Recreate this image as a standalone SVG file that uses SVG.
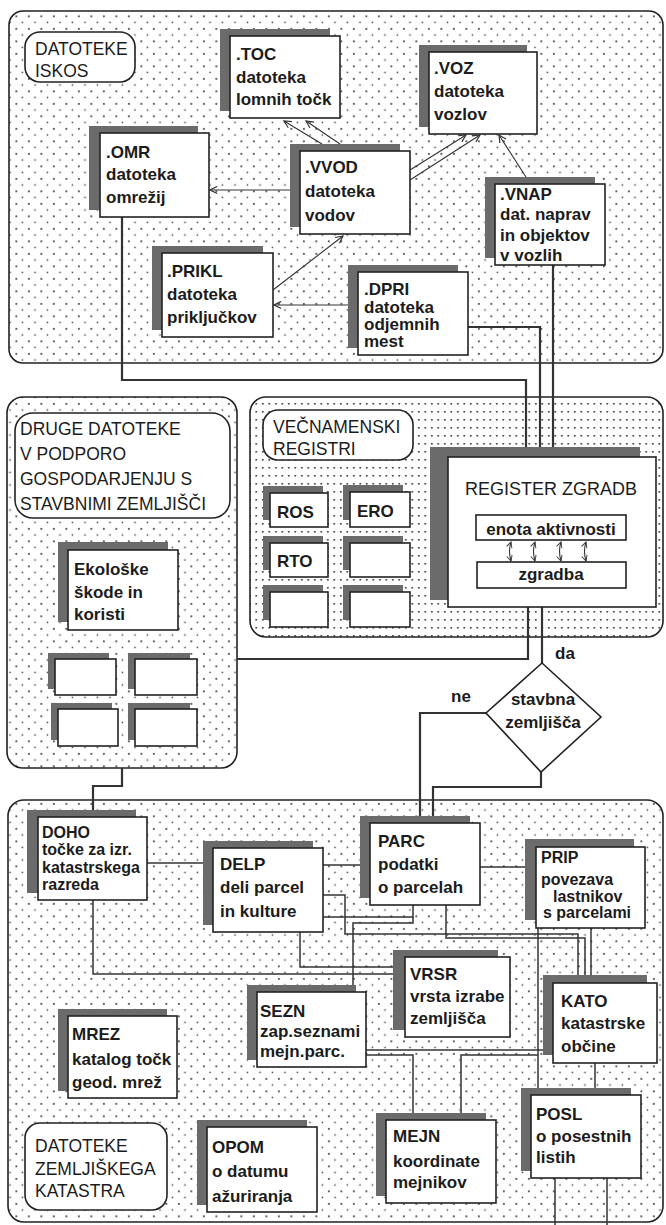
<svg xmlns="http://www.w3.org/2000/svg" width="666" height="1225" viewBox="0 0 666 1225">
<defs>
<pattern id="dots" width="12.5" height="12.5" patternUnits="userSpaceOnUse"><rect x="3" y="3" width="1.7" height="1.7" fill="#333"/><rect x="9.25" y="9.25" width="1.5" height="1.5" fill="#444"/></pattern>
<pattern id="dense" width="6.5" height="8" patternUnits="userSpaceOnUse"><rect x="2" y="3" width="1.6" height="1.6" fill="#333"/></pattern>
<marker id="ar" viewBox="0 0 10 10" refX="9" refY="5" markerWidth="9" markerHeight="9" orient="auto" markerUnits="userSpaceOnUse"><path d="M1,1 L9,5 L1,9" fill="none" stroke="#333" stroke-width="1.3"/></marker>
<marker id="ar2" viewBox="0 0 10 10" refX="9" refY="5" markerWidth="7" markerHeight="7" orient="auto-start-reverse" markerUnits="userSpaceOnUse"><path d="M1,1 L9,5 L1,9" fill="none" stroke="#333" stroke-width="1.3"/></marker>
<style>
.c{fill:url(#dots);stroke:#222;stroke-width:1.6}
.cd{fill:url(#dense);stroke:#222;stroke-width:1.6}
.sh{fill:#6b6b6b}
.bx{fill:#fff;stroke:#222;stroke-width:1.6}
.lbx{fill:#fff;stroke:#222;stroke-width:1.6}
.t{font-family:"Liberation Sans",Arial,sans-serif;font-weight:bold;font-size:17px;fill:#1c1c1c}
.l{font-family:"Liberation Sans",Arial,sans-serif;font-size:17.5px;fill:#1c1c1c}
.ln{fill:none;stroke:#333;stroke-width:1.5}
.lt{fill:none;stroke:#333;stroke-width:2.2}
.la{fill:none;stroke:#333;stroke-width:1.1}
</style>
</defs>
<rect width="666" height="1225" fill="#fff"/>

<g id="containers">
<rect class="c" x="9" y="11" width="654" height="352" rx="14"/>
<rect class="c" x="7" y="397" width="230" height="371" rx="16"/>
<rect class="cd" x="250" y="397" width="413" height="240" rx="16"/>
<rect class="c" x="8" y="800" width="655" height="422" rx="16"/>
</g>

<g id="connectors">
<line class="la" x1="322" y1="144" x2="284" y2="121" marker-end="url(#ar)"/>
<line class="la" x1="340" y1="144" x2="306" y2="121" marker-end="url(#ar)"/>
<line class="la" x1="410" y1="170" x2="466" y2="135" marker-end="url(#ar)"/>
<line class="la" x1="410" y1="180" x2="480" y2="135" marker-end="url(#ar)"/>
<line class="la" x1="526" y1="177" x2="499" y2="135" marker-end="url(#ar)"/>
<line class="la" x1="290" y1="190" x2="210" y2="190" marker-end="url(#ar)"/>
<line class="la" x1="273" y1="290" x2="343" y2="236" marker-end="url(#ar)"/>
<line class="la" x1="348" y1="305" x2="274" y2="305" marker-end="url(#ar)"/>
<polyline class="lt" points="122,217 122,380 526,380 526,447"/>
<polyline class="lt" points="468,327 540,327 540,447"/>
<polyline class="lt" points="553,265 553,447"/>
<polyline class="lt" points="528,607 528,659 237,659"/>
<polyline class="lt" points="542,607 542,663"/>
<polyline class="lt" points="486,713 420,713 420,817"/>
<polyline class="lt" points="541,772 541,787 433,787 433,817"/>
<polyline class="lt" points="122,768 122,786 93,786 93,810"/>
<polyline class="ln" points="147,863 203,863"/>
<polyline class="ln" points="93,900 93,974 393,974"/>
<polyline class="ln" points="300,932 300,967 393,967"/>
<polyline class="ln" points="323,865 360,865"/>
<polyline class="ln" points="480,867 525,867"/>
<polyline class="ln" points="323,895 345,895 345,934 578,934 578,975"/>
<polyline class="ln" points="413,905 413,917 323,917"/>
<polyline class="ln" points="413,917 413,923 353,923 353,985"/>
<polyline class="ln" points="446,905 446,938 585,938 585,975"/>
<polyline class="ln" points="591,928 591,975"/>
<polyline class="ln" points="538,928 538,1088"/>
<polyline class="ln" points="366,1050 543,1050"/>
<polyline class="ln" points="366,1055 413,1055 413,1113"/>
<polyline class="ln" points="461,1113 461,1055 538,1055"/>
<polyline class="ln" points="595,1063 595,1088"/>
<polyline class="ln" points="555,1178 555,1225"/>
<polyline class="ln" points="607,1178 607,1225"/>
</g>

<g id="lbl-iskos"><rect class="lbx" x="25" y="32" width="110" height="50" rx="15"/><text class="l"><tspan x="35" y="55">DATOTEKE</tspan><tspan x="35" y="77">ISKOS</tspan></text></g>
<g id="lbl-druge"><rect class="lbx" x="15" y="413" width="215" height="105" rx="18"/><text class="l"><tspan x="20" y="435">DRUGE DATOTEKE</tspan><tspan x="20" y="460">V PODPORO</tspan><tspan x="20" y="485">GOSPODARJENJU S</tspan><tspan x="20" y="510">STAVBNIMI ZEMLJIŠČI</tspan></text></g>
<g id="lbl-vecn"><rect class="lbx" x="263" y="410" width="150" height="50" rx="15"/><text class="l"><tspan x="273" y="433">VEČNAMENSKI</tspan><tspan x="273" y="455">REGISTRI</tspan></text></g>
<g id="lbl-zk"><rect class="lbx" x="25" y="1123" width="142" height="87" rx="15"/><text class="l"><tspan x="35" y="1152">DATOTEKE</tspan><tspan x="35" y="1175">ZEMLJIŠKEGA</tspan><tspan x="35" y="1197">KATASTRA</tspan></text></g>

<g id="n-toc"><rect class="sh" x="220" y="29" width="110" height="82"/><rect class="bx" x="230" y="36" width="110" height="82"/><text class="t"><tspan x="236" y="60">.TOC</tspan><tspan x="236" y="83">datoteka</tspan><tspan x="236" y="105">lomnih točk</tspan></text></g>
<g id="n-voz"><rect class="sh" x="419" y="45" width="108" height="82"/><rect class="bx" x="429" y="52" width="108" height="82"/><text class="t"><tspan x="434" y="74">.VOZ</tspan><tspan x="434" y="97">datoteka</tspan><tspan x="434" y="120">vozlov</tspan></text></g>
<g id="n-omr"><rect class="sh" x="89" y="126" width="109" height="84"/><rect class="bx" x="100" y="133" width="109" height="84"/><text class="t"><tspan x="106" y="158">.OMR</tspan><tspan x="106" y="180">datoteka</tspan><tspan x="106" y="203">omrežij</tspan></text></g>
<g id="n-vvod"><rect class="sh" x="290" y="144" width="110" height="83"/><rect class="bx" x="300" y="151" width="110" height="83"/><text class="t"><tspan x="305" y="173">.VVOD</tspan><tspan x="305" y="197">datoteka</tspan><tspan x="305" y="221">vodov</tspan></text></g>
<g id="n-vnap"><rect class="sh" x="485" y="177" width="110" height="81"/><rect class="bx" x="495" y="184" width="110" height="81"/><text class="t"><tspan x="500" y="200">.VNAP</tspan><tspan x="500" y="220">dat. naprav</tspan><tspan x="500" y="241">in objektov</tspan><tspan x="500" y="261">v vozlih</tspan></text></g>
<g id="n-prikl"><rect class="sh" x="152" y="246" width="111" height="84"/><rect class="bx" x="162" y="253" width="111" height="84"/><text class="t"><tspan x="167" y="277">.PRIKL</tspan><tspan x="167" y="300">datoteka</tspan><tspan x="167" y="323">priključkov</tspan></text></g>
<g id="n-dpri"><rect class="sh" x="348" y="265" width="110" height="83"/><rect class="bx" x="358" y="272" width="110" height="83"/><text class="t"><tspan x="364" y="295">.DPRI</tspan><tspan x="364" y="313">datoteka</tspan><tspan x="364" y="330">odjemnih</tspan><tspan x="364" y="347">mest</tspan></text></g>

<g id="n-register"><rect class="sh" x="430" y="447" width="210" height="153"/><rect class="bx" x="448" y="457" width="208" height="150"/><text class="l" style="font-size:18px" x="551" y="495" text-anchor="middle">REGISTER ZGRADB</text>
<rect class="bx" x="476" y="515" width="150" height="25"/><text class="t" x="551" y="535" text-anchor="middle">enota aktivnosti</text>
<rect class="bx" x="477" y="562" width="149" height="26"/><text class="t" x="551" y="580" text-anchor="middle">zgradba</text>
<path class="la" d="M511,542 q-3,9 0,19" marker-start="url(#ar2)" marker-end="url(#ar2)"/>
<path class="la" d="M535,542 q-3,9 0,19" marker-start="url(#ar2)" marker-end="url(#ar2)"/>
<path class="la" d="M561,542 q-3,9 0,19" marker-start="url(#ar2)" marker-end="url(#ar2)"/>
<path class="la" d="M586,542 q-3,9 0,19" marker-start="url(#ar2)" marker-end="url(#ar2)"/>
</g>

<g id="n-ros"><rect class="sh" x="263" y="486" width="60" height="34"/><rect class="bx" x="270" y="493" width="58" height="34"/><text class="t" x="277" y="518">ROS</text></g>
<g id="n-ero"><rect class="sh" x="343" y="485" width="60" height="35"/><rect class="bx" x="350" y="492" width="60" height="35"/><text class="t" x="357" y="517">ERO</text></g>
<g id="n-rto"><rect class="sh" x="263" y="536" width="60" height="34"/><rect class="bx" x="270" y="543" width="58" height="34"/><text class="t" x="277" y="567">RTO</text></g>
<g id="n-v4"><rect class="sh" x="343" y="536" width="60" height="34"/><rect class="bx" x="350" y="543" width="60" height="34"/></g>
<g id="n-v5"><rect class="sh" x="263" y="585" width="60" height="35"/><rect class="bx" x="270" y="592" width="58" height="35"/></g>
<g id="n-v6"><rect class="sh" x="343" y="585" width="60" height="35"/><rect class="bx" x="350" y="592" width="60" height="35"/></g>

<g id="n-eko"><rect class="sh" x="58" y="542" width="110" height="80"/><rect class="bx" x="68" y="550" width="110" height="80"/><text class="t"><tspan x="74" y="575">Ekološke</tspan><tspan x="74" y="598">škode in</tspan><tspan x="74" y="620">koristi</tspan></text></g>
<g id="n-d1"><rect class="sh" x="48" y="653" width="61" height="36"/><rect class="bx" x="55" y="659" width="61" height="36"/></g>
<g id="n-d2"><rect class="sh" x="128" y="653" width="62" height="36"/><rect class="bx" x="135" y="659" width="62" height="36"/></g>
<g id="n-d3"><rect class="sh" x="51" y="703" width="61" height="37"/><rect class="bx" x="58" y="709" width="60" height="37"/></g>
<g id="n-d4"><rect class="sh" x="128" y="703" width="62" height="37"/><rect class="bx" x="135" y="709" width="62" height="37"/></g>

<g id="n-diamond"><polygon points="542,663 601,717 541,772 486,713" fill="#fff" stroke="#222" stroke-width="1.6"/><text class="t" text-anchor="middle"><tspan x="543" y="705">stavbna</tspan><tspan x="543" y="728">zemljišča</tspan></text></g>
<text class="t" x="555" y="659">da</text>
<text class="t" x="451" y="702">ne</text>

<g id="n-doho"><rect class="sh" x="27" y="810" width="109" height="83"/><rect class="bx" x="38" y="817" width="109" height="83"/><text class="t" style="font-size:16px"><tspan x="42" y="838">DOHO</tspan><tspan x="42" y="855">točke za izr.</tspan><tspan x="42" y="873">katastrskega</tspan><tspan x="42" y="890">razreda</tspan></text></g>
<g id="n-delp"><rect class="sh" x="203" y="841" width="110" height="84"/><rect class="bx" x="213" y="848" width="110" height="84"/><text class="t"><tspan x="220" y="870">DELP</tspan><tspan x="220" y="893">deli parcel</tspan><tspan x="220" y="917">in kulture</tspan></text></g>
<g id="n-parc"><rect class="sh" x="360" y="816" width="110" height="82"/><rect class="bx" x="370" y="823" width="110" height="82"/><text class="t"><tspan x="378" y="847">PARC</tspan><tspan x="378" y="870">podatki</tspan><tspan x="378" y="893">o parcelah</tspan></text></g>
<g id="n-prip"><rect class="sh" x="525" y="839" width="109" height="81"/><rect class="bx" x="536" y="847" width="109" height="81"/><text class="t" style="font-size:16px"><tspan x="541" y="863">PRIP</tspan><tspan x="541" y="885">povezava</tspan><tspan x="553" y="902">lastnikov</tspan><tspan x="543" y="918">s parcelami</tspan></text></g>
<g id="n-vrsr"><rect class="sh" x="393" y="950" width="105" height="80"/><rect class="bx" x="405" y="957" width="105" height="80"/><text class="t"><tspan x="410" y="980">VRSR</tspan><tspan x="410" y="1002">vrsta izrabe</tspan><tspan x="410" y="1024">zemljišča</tspan></text></g>
<g id="n-kato"><rect class="sh" x="543" y="975" width="104" height="80"/><rect class="bx" x="553" y="983" width="104" height="80"/><text class="t"><tspan x="561" y="1007">KATO</tspan><tspan x="561" y="1029">katastrske</tspan><tspan x="561" y="1052">občine</tspan></text></g>
<g id="n-sezn"><rect class="sh" x="247" y="985" width="109" height="75"/><rect class="bx" x="257" y="992" width="109" height="75"/><text class="t"><tspan x="260" y="1017">SEZN</tspan><tspan x="260" y="1037">zap.seznami</tspan><tspan x="260" y="1057">mejn.parc.</tspan></text></g>
<g id="n-mrez"><rect class="sh" x="58" y="1009" width="109" height="82"/><rect class="bx" x="68" y="1016" width="109" height="82"/><text class="t"><tspan x="72" y="1040">MREZ</tspan><tspan x="72" y="1065">katalog točk</tspan><tspan x="72" y="1088">geod. mrež</tspan></text></g>
<g id="n-opom"><rect class="sh" x="197" y="1120" width="110" height="85"/><rect class="bx" x="207" y="1127" width="110" height="85"/><text class="t"><tspan x="212" y="1153">OPOM</tspan><tspan x="212" y="1177">o datumu</tspan><tspan x="212" y="1202">ažuriranja</tspan></text></g>
<g id="n-mejn"><rect class="sh" x="376" y="1113" width="110" height="83"/><rect class="bx" x="386" y="1120" width="110" height="83"/><text class="t"><tspan x="393" y="1142">MEJN</tspan><tspan x="393" y="1167">koordinate</tspan><tspan x="393" y="1188">mejnikov</tspan></text></g>
<g id="n-posl"><rect class="sh" x="521" y="1088" width="110" height="83"/><rect class="bx" x="531" y="1095" width="110" height="83"/><text class="t"><tspan x="536" y="1120">POSL</tspan><tspan x="536" y="1142">o posestnih</tspan><tspan x="536" y="1163">listih</tspan></text></g>
</svg>
